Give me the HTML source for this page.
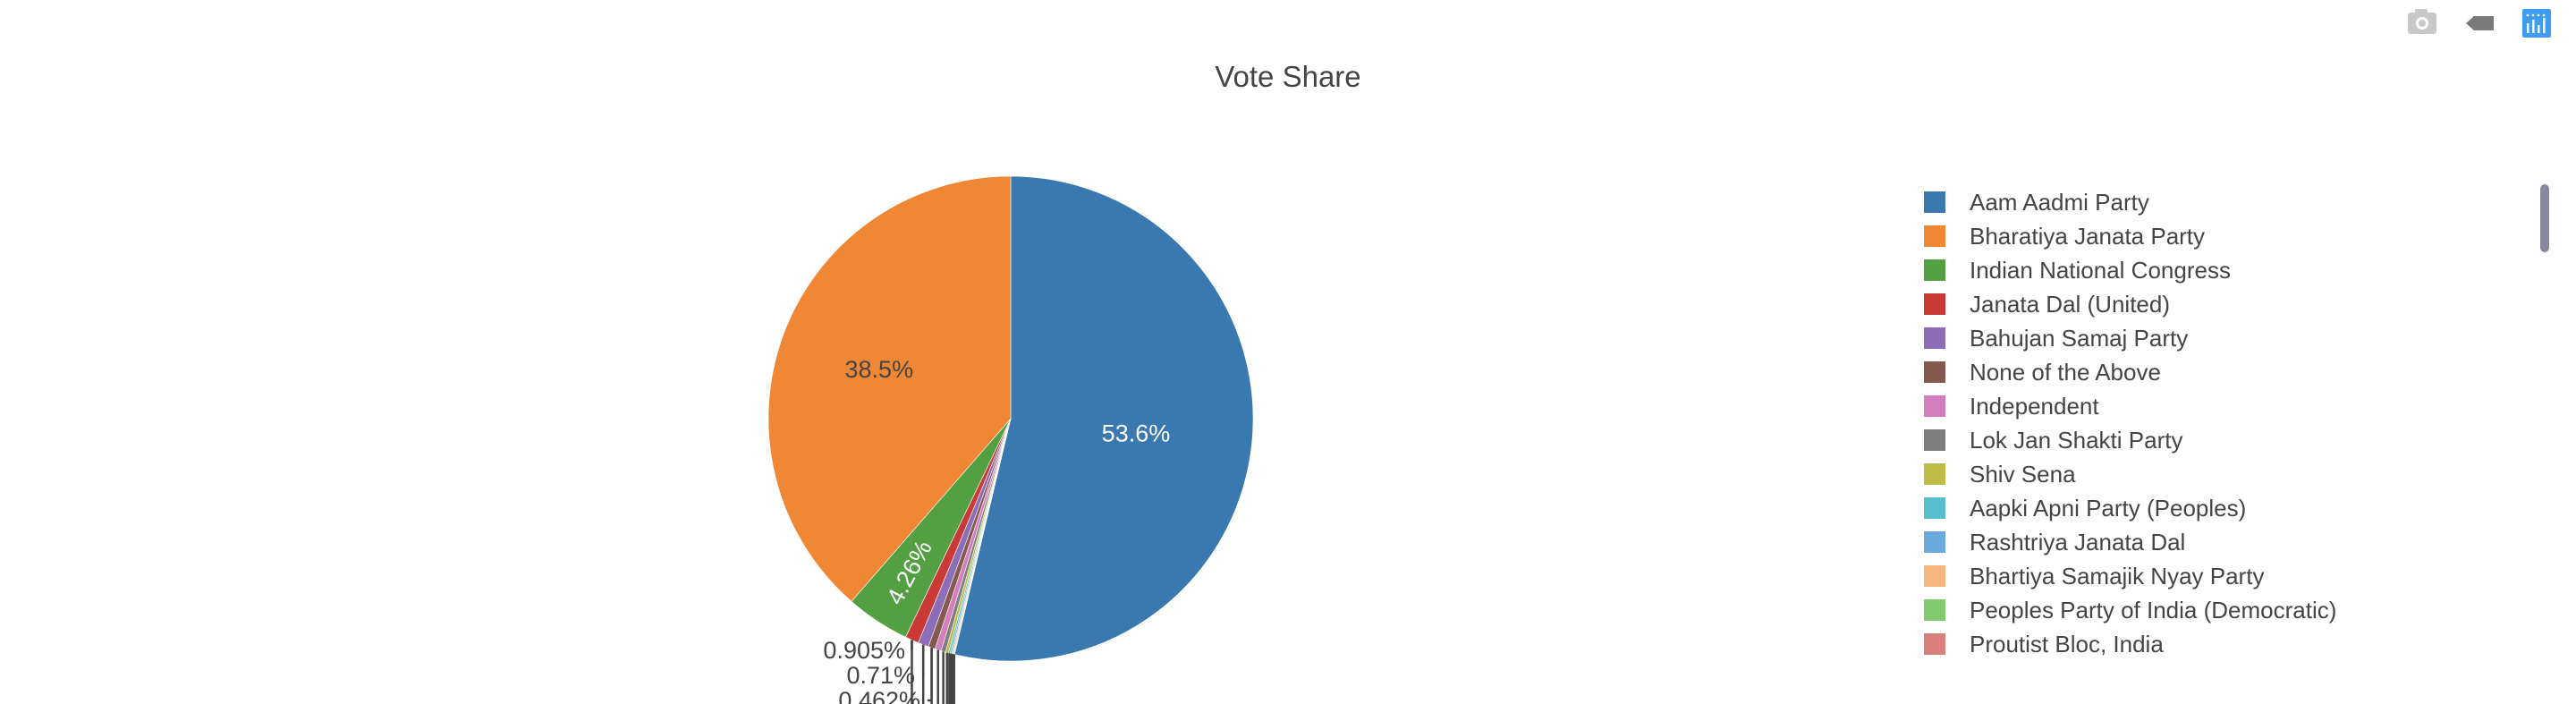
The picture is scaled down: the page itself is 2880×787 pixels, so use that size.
<!DOCTYPE html>
<html><head><meta charset="utf-8"><style>
html,body{margin:0;padding:0;background:#fff;width:2880px;height:787px;overflow:hidden}
svg{display:block;font-family:"Liberation Sans","DejaVu Sans",sans-serif}
</style></head><body>
<svg id="chart" width="2880" height="787" viewBox="0 0 2880 787" overflow="hidden">
<defs><clipPath id="frame"><rect x="0" y="0" width="2880" height="787"/></clipPath></defs>
<text x="1440" y="97" text-anchor="middle" font-size="33" fill="#444">Vote Share</text>
<g>
 <g><rect x="2692" y="14" width="32" height="24" rx="3" fill="#c8c8c8"/><rect x="2700" y="10" width="14" height="6" rx="2" fill="#c8c8c8"/><circle cx="2708" cy="26" r="7" fill="#fff"/><circle cx="2708" cy="26" r="4" fill="#c8c8c8"/></g>
 <g><polygon points="2757,26 2766,18 2788,18 2788,34 2766,34" fill="#7a7a7a"/></g>
 <g><rect x="2820" y="10" width="32" height="32" rx="2" fill="#3f9cf0"/>
 <g fill="#fff"><rect x="2825" y="26" width="2.5" height="11"/><rect x="2831" y="22" width="2.5" height="15"/><rect x="2837" y="28" width="2.5" height="9"/><rect x="2843" y="20" width="2.5" height="17"/>
 <circle cx="2826" cy="17" r="1.3"/><circle cx="2832" cy="17" r="1.3"/><circle cx="2838" cy="17" r="1.3"/><circle cx="2844" cy="17" r="1.3"/></g></g>
</g>
<g clip-path="url(#frame)">
<g id="pie"></g>
<g id="labels"></g>
</g>
<g id="legend"></g>
<rect x="2840" y="206" width="10" height="76" rx="5" fill="#838aa0"/>
</svg>
<script>
const parties = ["Aam Aadmi Party","Bharatiya Janata Party","Indian National Congress","Janata Dal (United)","Bahujan Samaj Party","None of the Above","Independent","Lok Jan Shakti Party","Shiv Sena","Aapki Apni Party (Peoples)","Rashtriya Janata Dal","Bhartiya Samajik Nyay Party","Peoples Party of India (Democratic)","Proutist Bloc, India"];
const shares = [53.6,38.5,4.26,0.905,0.71,0.462,0.42,0.3,0.2,0.12,0.1,0.08,0.06,0.05];
const colors = ["#3a78b0","#f08735","#53a042","#c93a34","#8e6db8","#845a4f","#d37fbf","#7f7f7f","#bdbc47","#56bdcb","#6aa9dc","#f5b57f","#80cc6e","#d97f7c"];
const NS="http://www.w3.org/2000/svg";
const cx=1130, cy=468, R=271;
const total=shares.reduce((a,b)=>a+b,0);
function pt(a,r){return [cx+r*Math.sin(a), cy-r*Math.cos(a)];}
const pie=document.getElementById('pie'), labs=document.getElementById('labels');
const order=[0]; for(let i=shares.length-1;i>=1;i--) order.push(i);
let ang=0; const mids={};
order.forEach(i=>{
  const a0=ang, a1=ang+shares[i]/total*2*Math.PI; ang=a1;
  const p0=pt(a0,R), p1=pt(a1,R), large=(a1-a0)>Math.PI?1:0;
  const p=document.createElementNS(NS,'path');
  p.setAttribute('d',`M${cx},${cy}L${p0[0]},${p0[1]}A${R},${R} 0 ${large} 1 ${p1[0]},${p1[1]}Z`);
  p.setAttribute('fill',colors[i]); p.setAttribute('stroke','#fff'); p.setAttribute('stroke-width','0.6');
  
  
  pie.appendChild(p);
  mids[i]=(a0+a1)/2;
});
function fmt(v){return v+'%';}
function addText(x,y,s,fill,rot){
  const t=document.createElementNS(NS,'text');
  t.setAttribute('x',x);t.setAttribute('y',y);t.setAttribute('fill',fill);t.setAttribute('font-size','27');
  t.setAttribute('text-anchor','middle');t.setAttribute('dominant-baseline','central');
  if(rot) t.setAttribute('transform',`rotate(${rot} ${x} ${y})`);
  t.textContent=s;
  
  
  labs.appendChild(t); return t;
}
[[0,0.52,"#fff"],[1,0.58,"#444"],[2,0.76,"#fff"]].forEach(([i,f,c])=>{
  const p=pt(mids[i],R*f);
  addText(p[0],p[1],fmt(shares[i]),c,i===2?-62:0);
});
const labelEnds=[1012,1023,1029];
for(let i=3;i<shares.length;i++){
  const p=pt(mids[i],R);
  const k=i-3, ly=727+k*28;
  if(ly>800) break;
  const lx=labelEnds[k]||1030;
  const line=document.createElementNS(NS,'path');
  line.setAttribute('d',`M${p[0]},${p[1]}L${p[0]},${Math.max(ly,p[1])}L${Math.min(lx+8,p[0])},${Math.max(ly,p[1])}`);
  line.setAttribute('stroke','#444');line.setAttribute('stroke-width','2.5');line.setAttribute('fill','none');
  
  
  labs.appendChild(line);
  const t=addText(lx,ly,fmt(shares[i]),"#444",0); t.setAttribute('text-anchor','end');
}
// vertical leader lines for remaining tiny slices
for(let i=3;i<shares.length;i++){
  const p=pt(mids[i],R);
  const v=document.createElementNS(NS,'line');
  v.setAttribute('x1',p[0]);v.setAttribute('y1',p[1]);v.setAttribute('x2',p[0]);v.setAttribute('y2',787);
  v.setAttribute('stroke','#444');v.setAttribute('stroke-width','2.5');
  
  
  labs.appendChild(v);
}
const leg=document.getElementById('legend');
parties.forEach((n,i)=>{
  const y=226+i*38;
  const g=document.createElementNS(NS,'g');
  
  
  const r=document.createElementNS(NS,'rect');
  r.setAttribute('x',2151);r.setAttribute('y',y-12);r.setAttribute('width',24);r.setAttribute('height',24);r.setAttribute('fill',colors[i]);
  const t=document.createElementNS(NS,'text');
  t.setAttribute('x',2202);t.setAttribute('y',y);t.setAttribute('dominant-baseline','central');t.setAttribute('font-size','26');t.setAttribute('fill','#444');
  t.textContent=n;
  g.appendChild(r);g.appendChild(t);leg.appendChild(g);
});
</script>
</body></html>
